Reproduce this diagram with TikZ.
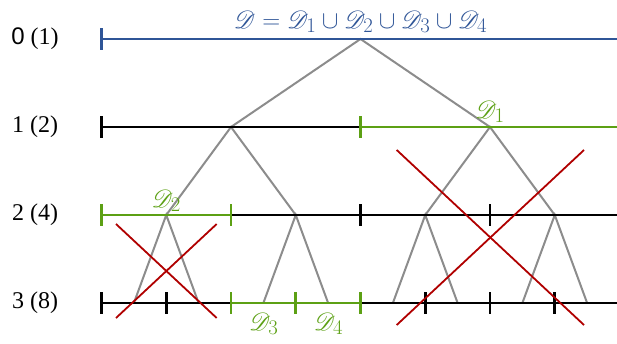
\documentclass[tikz,border=0pt]{standalone}
\usepackage{fontspec}
\setmainfont{Liberation Serif}
\newfontfamily\zerofont{Liberation Sans}
\usepackage{mathrsfs}
\definecolor{dblue}{RGB}{47,85,151}
\definecolor{dgreen}{RGB}{92,160,20}
\definecolor{cred}{RGB}{176,0,0}
\definecolor{tgray}{RGB}{140,140,140}
\begin{document}
\begin{tikzpicture}[x=1pt,y=-1pt,
  hline/.style={line width=2.2pt},
  tickln/.style={line width=2.6pt},
  branch/.style={draw=tgray,line width=2pt},
  crossln/.style={draw=cred,line width=1.8pt},
  lvl/.style={font=\fontsize{24}{28}\selectfont, inner sep=0pt},
  dl/.style={font=\fontsize{28}{32}\selectfont, inner sep=0pt, anchor=base}]
\useasboundingbox (0,0) rectangle (617,343);
% level 0
\coordinate (p0a) at (101.5,39);
\coordinate (n0) at (360.5,39);
\coordinate (r0) at (617,39);
% level 1
\coordinate (p1a) at (101.5,127);
\coordinate (p1b) at (360.5,127);
\coordinate (r1) at (617,127);
\coordinate (n1a) at (231,127);
\coordinate (n1b) at (490,127);
% level 2
\foreach \n [count=\k from 0] in {a,b,c,d} {
  \coordinate (p2\n) at ({101.5+129.5*\k},215);
  \coordinate (n2\n) at ({166.25+129.5*\k},215);
}
\coordinate (r2) at (617,215);
% level 3
\foreach \n [count=\k from 0] in {a,b,c,d,e,f,g,h} {
  \coordinate (p3\n) at ({101.5+64.75*\k},303);
  \coordinate (n3\n) at ({133.875+64.75*\k},303);
}
\coordinate (r3) at (617,303);
% tree branches
\draw[branch] (n1a) -- (n0) -- (n1b);
\draw[branch] (n2a) -- (n1a) -- (n2b);
\draw[branch] (n2c) -- (n1b) -- (n2d);
\draw[branch] (n3a) -- (n2a) -- (n3b);
\draw[branch] (n3c) -- (n2b) -- (n3d);
\draw[branch] (n3e) -- (n2c) -- (n3f);
\draw[branch] (n3g) -- (n2d) -- (n3h);
% horizontal lines
\draw[hline,draw=dblue] (p0a) -- (r0);
\draw[hline,draw=black] (p1a) -- (p1b);
\draw[hline,draw=dgreen] (p1b) -- (r1);
\draw[hline,draw=dgreen] (p2a) -- (p2b);
\draw[hline,draw=black] (p2b) -- (r2);
\draw[hline,draw=black] (p3a) -- (p3c);
\draw[hline,draw=dgreen] (p3c) -- (p3e);
\draw[hline,draw=black] (p3e) -- (r3);
% ticks
\draw[tickln,dblue] ([yshift=11pt]p0a) -- ([yshift=-11pt]p0a);
\draw[tickln] ([yshift=11pt]p1a) -- ([yshift=-11pt]p1a);
\draw[tickln,dgreen] ([yshift=11pt]p1b) -- ([yshift=-11pt]p1b);
\foreach \n in {a,b} \draw[tickln,dgreen] ([yshift=11pt]p2\n) -- ([yshift=-11pt]p2\n);
\foreach \n in {c,d} \draw[tickln] ([yshift=11pt]p2\n) -- ([yshift=-11pt]p2\n);
\foreach \n in {a,b,f,g,h} \draw[tickln] ([yshift=11pt]p3\n) -- ([yshift=-11pt]p3\n);
\foreach \n in {c,d,e} \draw[tickln,dgreen] ([yshift=11pt]p3\n) -- ([yshift=-11pt]p3\n);
% red crosses
\coordinate (c1a) at (116,224);
\coordinate (c1b) at (216.7,318);
\coordinate (c1c) at (216.7,224);
\coordinate (c1d) at (116,318);
\coordinate (c2a) at (396.7,150);
\coordinate (c2b) at (584,325);
\coordinate (c2c) at (584,150);
\coordinate (c2d) at (396.7,325);
\draw[crossln] (c1a) -- (c1b);
\draw[crossln] (c1c) -- (c1d);
\draw[crossln] (c2a) -- (c2b);
\draw[crossln] (c2c) -- (c2d);
% level labels
\node[lvl] (l0) at (35,39) {{\zerofont 0} (1)};
\node[lvl] (l1) at (35,127) {1 (2)};
\node[lvl] (l2) at (35,215) {2 (4)};
\node[lvl] (l3) at (35,303) {3 (8)};
% set labels
\node[dl,text=dblue] (dall) at (360.5,28) {$\mathscr{D}=\mathscr{D}_1\cup\mathscr{D}_2\cup\mathscr{D}_3\cup\mathscr{D}_4$};
\node[dl,text=dgreen] (d1) at (490,118) {$\mathscr{D}_1$};
\node[dl,text=dgreen] (d2) at (166.25,207) {$\mathscr{D}_2$};
\node[dl,text=dgreen] (d3) at (263.75,330) {$\mathscr{D}_3$};
\node[dl,text=dgreen] (d4) at (328.5,330) {$\mathscr{D}_4$};
\end{tikzpicture}
\end{document}
